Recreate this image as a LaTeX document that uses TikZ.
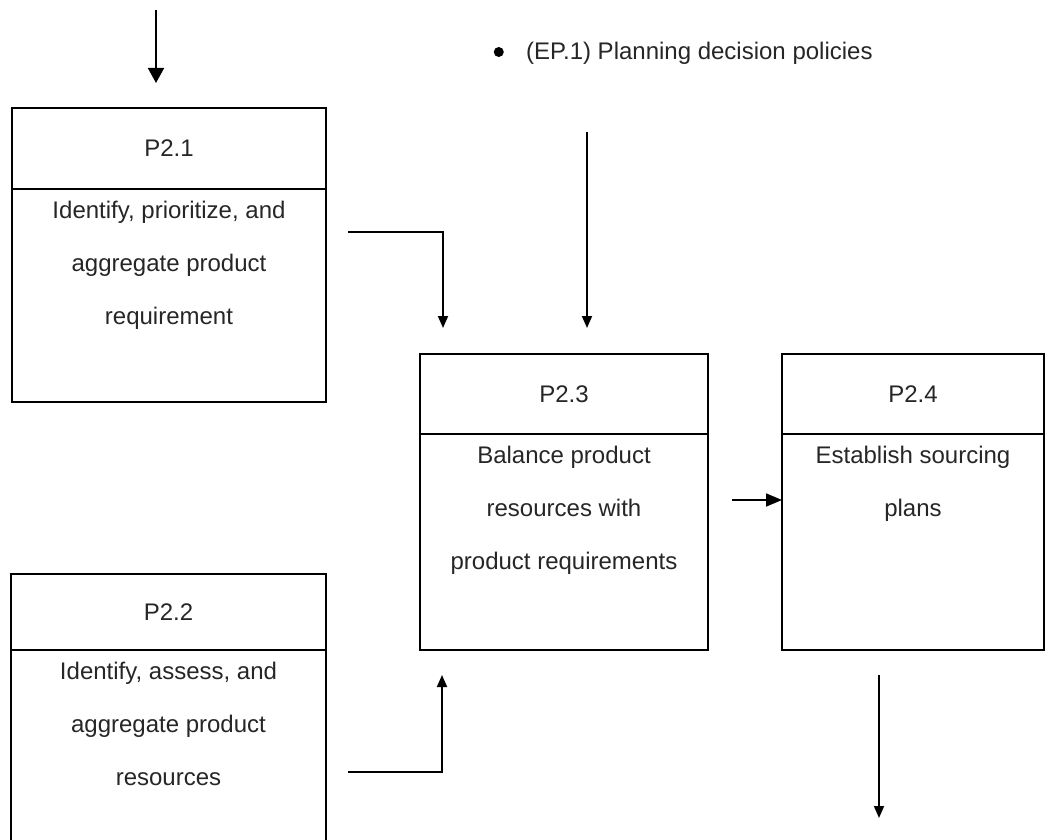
\documentclass[tikz,border=0pt]{standalone}
\usepackage{fontspec}
\setmainfont{Liberation Sans}
\usetikzlibrary{arrows.meta,calc}
\begin{document}
\begin{tikzpicture}[x=0.5pt,y=-0.5pt,
  frame/.style={draw=black,line width=0.8pt,inner sep=0pt,outer sep=0pt},
  hdr/.style={frame,font=\fontsize{12}{14}\selectfont,text=black!85},
  bodytext/.style={inner sep=0pt,align=center,anchor=north,
    font=\fontsize{12}{26.5}\selectfont,text=black!85},
  flow/.style={line width=0.9pt,draw=black},
  bighead/.style={-{Triangle[width=8pt,length=7.5pt]}},
  midhead/.style={-{Triangle[width=6.5pt,length=8pt]}},
  smallhead/.style={-{Triangle[width=5pt,length=6pt]}},
  bulletdot/.style={circle,fill=black,inner sep=0pt,minimum size=5pt}
]
\clip (0,0) rectangle (1050,840);

% ---- process boxes: header cell + body cell ----
\node[hdr,minimum width=157pt,minimum height=40.5pt,anchor=north west] (h21) at (12,108) {P2.1};
\node[frame,minimum width=157pt,minimum height=106.5pt,anchor=north west] (b21) at (h21.south west) {};
\node[bodytext] (t21) at ($(b21.north)+(0,12)$) {Identify, prioritize, and\\aggregate product\\requirement};

\node[hdr,minimum width=157.5pt,minimum height=38pt,anchor=north west] (h22) at (11,574) {P2.2};
\node[frame,minimum width=157.5pt,minimum height=110pt,anchor=north west] (b22) at (h22.south west) {};
\node[bodytext] (t22) at ($(b22.north)+(0,12)$) {Identify, assess, and\\aggregate product\\resources};

\node[hdr,minimum width=144pt,minimum height=40pt,anchor=north west] (h23) at (420,354) {P2.3};
\node[frame,minimum width=144pt,minimum height=108pt,anchor=north west] (b23) at (h23.south west) {};
\node[bodytext] (t23) at ($(b23.north)+(0,12)$) {Balance product\\resources with\\product requirements};

\node[hdr,minimum width=131pt,minimum height=40pt,anchor=north west] (h24) at (782,354) {P2.4};
\node[frame,minimum width=131pt,minimum height=108pt,anchor=north west] (b24) at (h24.south west) {};
\node[bodytext] (t24) at ($(b24.north)+(0,12)$) {Establish sourcing\\plans};

% ---- policy note ----
\node[anchor=base east,inner sep=0pt,font=\fontsize{12}{14}\selectfont,text=black!85] (ep) at (873,60) {(EP.1) Planning decision policies};
\node[bulletdot] (bul) at ($(ep.base west)+(-27,-8)$) {};

% ---- connectors ----
\coordinate (in0) at (156,10);
\coordinate (in1) at (156,83);
\draw[flow,bighead] (in0) -- (in1);

\coordinate (ep0) at (587,132);
\coordinate (ep1) at (587,328);
\draw[flow,smallhead] (ep0) -- (ep1);

\coordinate (r1) at (348,232);
\coordinate (r1e) at (443,328);
\draw[flow,smallhead] (r1) -| (r1e);

\coordinate (r2) at (348,772);
\coordinate (r2e) at (442,675);
\draw[flow,smallhead] (r2) -| (r2e);

\coordinate (m0) at (732,500);
\draw[flow,midhead] (m0) -- (b24.west |- m0);

\coordinate (d0) at (879,675);
\coordinate (d1) at (879,818);
\draw[flow,smallhead] (d0) -- (d1);
\end{tikzpicture}
\end{document}
